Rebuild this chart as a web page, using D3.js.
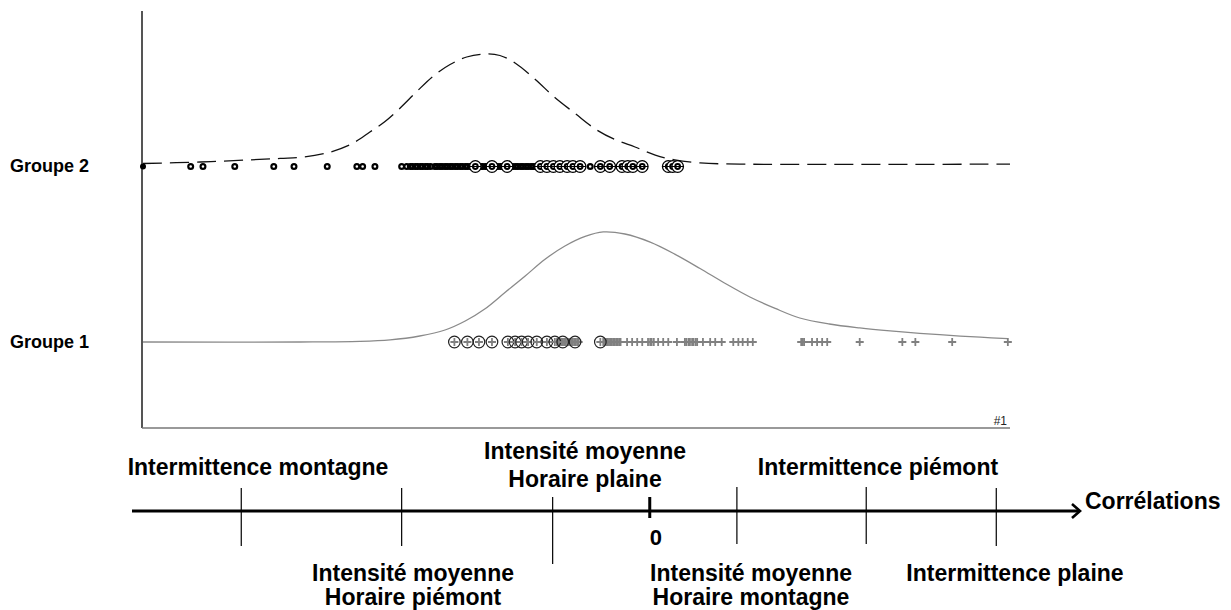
<!DOCTYPE html>
<html><head><meta charset="utf-8">
<script src="https://cdn.jsdelivr.net/npm/d3@7"></script>
<style>
html,body{margin:0;padding:0;background:#fff;}
svg{display:block;}
text{font-family:"Liberation Sans",Arial,sans-serif;font-weight:bold;fill:#000;}
</style></head>
<body>
<svg id="c" width="1231" height="610"></svg>
<script>
// ---------- DATA ----------
const groups = ["Groupe 2", "Groupe 1"];

// Groupe 2 : correlations (small markers / large markers)
const g2Origin = [-0.700];
const g2Small = [-0.634,-0.617,-0.573,-0.519,-0.491,-0.445,-0.404,-0.396,-0.379,-0.342,-0.335,
  -0.330,-0.327,-0.323,-0.320,-0.316,-0.313,-0.309,-0.306,-0.302,
  -0.296,-0.293,-0.289,-0.286,-0.282,-0.279,-0.275,-0.272,-0.268,-0.265,-0.261,-0.258,-0.254,-0.251,
  -0.247,-0.244,-0.240,-0.237,-0.233,-0.230,-0.226,-0.223,-0.219,-0.216,-0.212,-0.209,-0.205,-0.202,
  -0.198,-0.195,-0.191,-0.188,-0.184,-0.181,-0.177,-0.174,-0.170,-0.167,-0.163,-0.160,-0.156,-0.153,
  -0.081];
const g2Large = [-0.240,-0.217,-0.196,-0.150,-0.141,-0.132,-0.123,-0.113,-0.105,-0.095,
  -0.067,-0.054,-0.037,-0.029,-0.022,-0.009,0.027,0.033,0.040];

// Groupe 1 : correlations (circles / crosses)
const g1Circles = [-0.269,-0.251,-0.235,-0.217,-0.195,-0.185,-0.176,-0.167,-0.155,-0.141,-0.130,-0.119,-0.102,-0.067];
const g1Plus = [-0.127,-0.125,-0.123,-0.121,-0.119,-0.117,-0.115,-0.113,-0.111,-0.109,-0.107,-0.105,-0.103,-0.101,-0.099,-0.097,
  -0.063,-0.061,-0.059,-0.057,-0.055,-0.053,-0.051,-0.049,-0.047,-0.045,-0.043,-0.041,-0.039,
  -0.030,-0.023,-0.016,-0.009,-0.001,0.002,0.004,0.007,0.013,0.020,0.027,0.039,
  0.050,0.052,0.055,0.057,0.060,0.062,0.065,0.067,0.075,0.085,0.092,0.101,
  0.117,0.124,0.130,0.137,0.144,0.211,0.213,0.215,0.226,0.233,0.240,0.247,0.292,0.351,0.369,0.420,0.497];

// Density curves (x = correlation, y = density)
const g2DensX = [-0.700,-0.621,-0.552,-0.510,-0.476,-0.441,-0.413,-0.386,-0.365,-0.344,-0.321,-0.299,-0.275,-0.252,-0.227,-0.206,-0.185,-0.157,-0.130,-0.102,-0.074,-0.047,-0.019,0.009,0.036,0.071,0.126,0.500];
const g2DensY = [0.05,0.10,0.17,0.22,0.27,0.43,0.68,1.10,1.45,1.90,2.45,2.95,3.35,3.60,3.70,3.65,3.40,2.85,2.25,1.72,1.20,0.85,0.60,0.33,0.17,0.07,0.03,0.03];
const g1DensX = [-0.700,-0.483,-0.400,-0.358,-0.317,-0.282,-0.254,-0.227,-0.199,-0.171,-0.144,-0.116,-0.088,-0.063,-0.033,0.002,0.036,0.071,0.106,0.140,0.175,0.209,0.250,0.292,0.334,0.375,0.417,0.459,0.497];
const g1DensY = [0,0,0.02,0.07,0.20,0.40,0.70,1.10,1.65,2.20,2.75,3.20,3.52,3.67,3.60,3.33,2.93,2.45,1.95,1.50,1.12,0.80,0.60,0.47,0.37,0.29,0.22,0.16,0.11];

// Schematic correlation axis
const axisTicks = [-0.564,-0.342,-0.133,0.122,0.301,0.481];
const zeroTick = [0];
const axisTitle = "Corrélations";
const labelsAbove = [["Intermittence montagne"],["Intensité moyenne","Horaire plaine"],["Intermittence piémont"]];
const labelsBelow = [["Intensité moyenne","Horaire piémont"],["Intensité moyenne","Horaire montagne"],["Intermittence plaine"]];
const plotTag = "#1";

// ---------- DRAW ----------
const svg = d3.select("#c");
const x = d3.scaleLinear().domain([-0.7, 0.5]).range([143, 1010]);
const yGroup = d3.scalePoint().domain(groups).range([166, 342]);
const dens = d3.scaleLinear().domain([0, 4]).range([0, 120]);

// plot frame
svg.append("line").attr("x1",142).attr("x2",142).attr("y1",11).attr("y2",428)
  .attr("stroke","#555").attr("stroke-width",2);
svg.append("line").attr("x1",142).attr("x2",1010).attr("y1",428).attr("y2",428)
  .attr("stroke","#777").attr("stroke-width",1.5);
svg.append("text").attr("x",1007).attr("y",425).attr("text-anchor","end")
  .style("font-size","12px").style("font-weight","normal").style("fill","#222").text(plotTag);

// group labels
svg.selectAll("text.grp").data(groups).enter().append("text").attr("class","grp")
  .attr("x",10).attr("y",d=>yGroup(d)+6).style("font-size","18px").text(d=>d);

// density curves
const line = (gy) => d3.line().x(d=>x(d[0])).y(d=>gy - dens(d[1])).curve(d3.curveCatmullRom.alpha(0.5));
const g2pts = g2DensX.map((v,i)=>[v,g2DensY[i]]);
const g1pts = g1DensX.map((v,i)=>[v,g1DensY[i]]);
svg.append("path").attr("d", line(yGroup("Groupe 2") - 1)(g2pts)).attr("fill","none")
  .attr("stroke","#111").attr("stroke-width",1.3).attr("stroke-dasharray","19,8");
svg.append("path").attr("d", line(yGroup("Groupe 1"))(g1pts)).attr("fill","none")
  .attr("stroke","#8a8a8a").attr("stroke-width",1.3);

// Groupe 2 markers
const y2 = yGroup("Groupe 2") + 0.5;
svg.selectAll("circle.o").data(g2Origin).enter().append("circle")
  .attr("cx",d=>x(d)).attr("cy",y2).attr("r",3).attr("fill","#000");
svg.selectAll("circle.s2").data(g2Small).enter().append("circle").attr("class","s2")
  .attr("cx",d=>x(d)).attr("cy",y2).attr("r",2.4).attr("fill","none").attr("stroke","#000").attr("stroke-width",2.2);
const L2 = svg.selectAll("g.l2").data(g2Large).enter().append("g").attr("class","l2")
  .attr("transform",d=>`translate(${x(d)},${y2})`);
L2.append("circle").attr("r",5.8).attr("fill","#fff").attr("stroke","#000").attr("stroke-width",1.3);
L2.append("path").attr("d","M-5.8,0H5.8").attr("stroke","#000").attr("stroke-width",1);
L2.append("circle").attr("r",2.4).attr("fill","none").attr("stroke","#000").attr("stroke-width",2);

// Groupe 1 markers
const y1 = yGroup("Groupe 1");
svg.selectAll("path.p1").data(g1Plus).enter().append("path").attr("class","p1")
  .attr("d",d=>`M${x(d)-4},${y1}H${x(d)+4}M${x(d)},${y1-4}V${y1+4}`)
  .attr("stroke","#808080").attr("stroke-width",1.8).attr("fill","none");
const C1 = svg.selectAll("g.c1").data(g1Circles).enter().append("g").attr("class","c1")
  .attr("transform",d=>`translate(${x(d)},${y1})`);
C1.append("path").attr("d","M-4,0H4M0,-4V4").attr("stroke","#808080").attr("stroke-width",1.8);
C1.append("circle").attr("r",5.8).attr("fill","none").attr("stroke","#222").attr("stroke-width",1.2);

// ---------- bottom schematic axis ----------
const ay = 511;
svg.append("line").attr("x1",132).attr("x2",1079).attr("y1",ay).attr("y2",ay)
  .attr("stroke","#000").attr("stroke-width",3);
svg.append("path").attr("d",`M1072,${ay-7}L1080,${ay}L1072,${ay+7}`).attr("fill","none")
  .attr("stroke","#000").attr("stroke-width",2.6).attr("stroke-linejoin","miter");
const tickExt = [[23,35],[23,35],[14,53],[24,33],[24,33],[23,35]];
svg.selectAll("line.tk").data(axisTicks).enter().append("line").attr("class","tk")
  .attr("x1",d=>x(d)).attr("x2",d=>x(d))
  .attr("y1",(d,i)=>ay-tickExt[i][0]).attr("y2",(d,i)=>ay+tickExt[i][1])
  .attr("stroke","#000").attr("stroke-width",1.2);
svg.selectAll("line.zt").data(zeroTick).enter().append("line")
  .attr("x1",d=>x(d)+1).attr("x2",d=>x(d)+1).attr("y1",ay-14).attr("y2",ay+7)
  .attr("stroke","#000").attr("stroke-width",3);

const FS = 23;
svg.selectAll("text.zl").data(zeroTick).enter().append("text")
  .attr("x",d=>x(d)+1).attr("y",545).style("font-size","22px").text(d=>d);
svg.append("text").attr("x",1085).attr("y",509).style("font-size",FS+"px").text(axisTitle);

const aboveX = [258, 585, 878], aboveY = [[475],[459,487],[475]];
const belowX = [413, 751, 1015], belowY = [[581,605],[581,605],[581]];
function drawLabels(arr, xs, ys){
  arr.forEach((lines,i)=>{
    lines.forEach((t,j)=>{
      svg.append("text").attr("x",xs[i]).attr("y",ys[i][j]).attr("text-anchor","middle")
        .style("font-size",FS+"px").text(t);
    });
  });
}
drawLabels(labelsAbove, aboveX, aboveY);
drawLabels(labelsBelow, belowX, belowY);
</script>
</body></html>
